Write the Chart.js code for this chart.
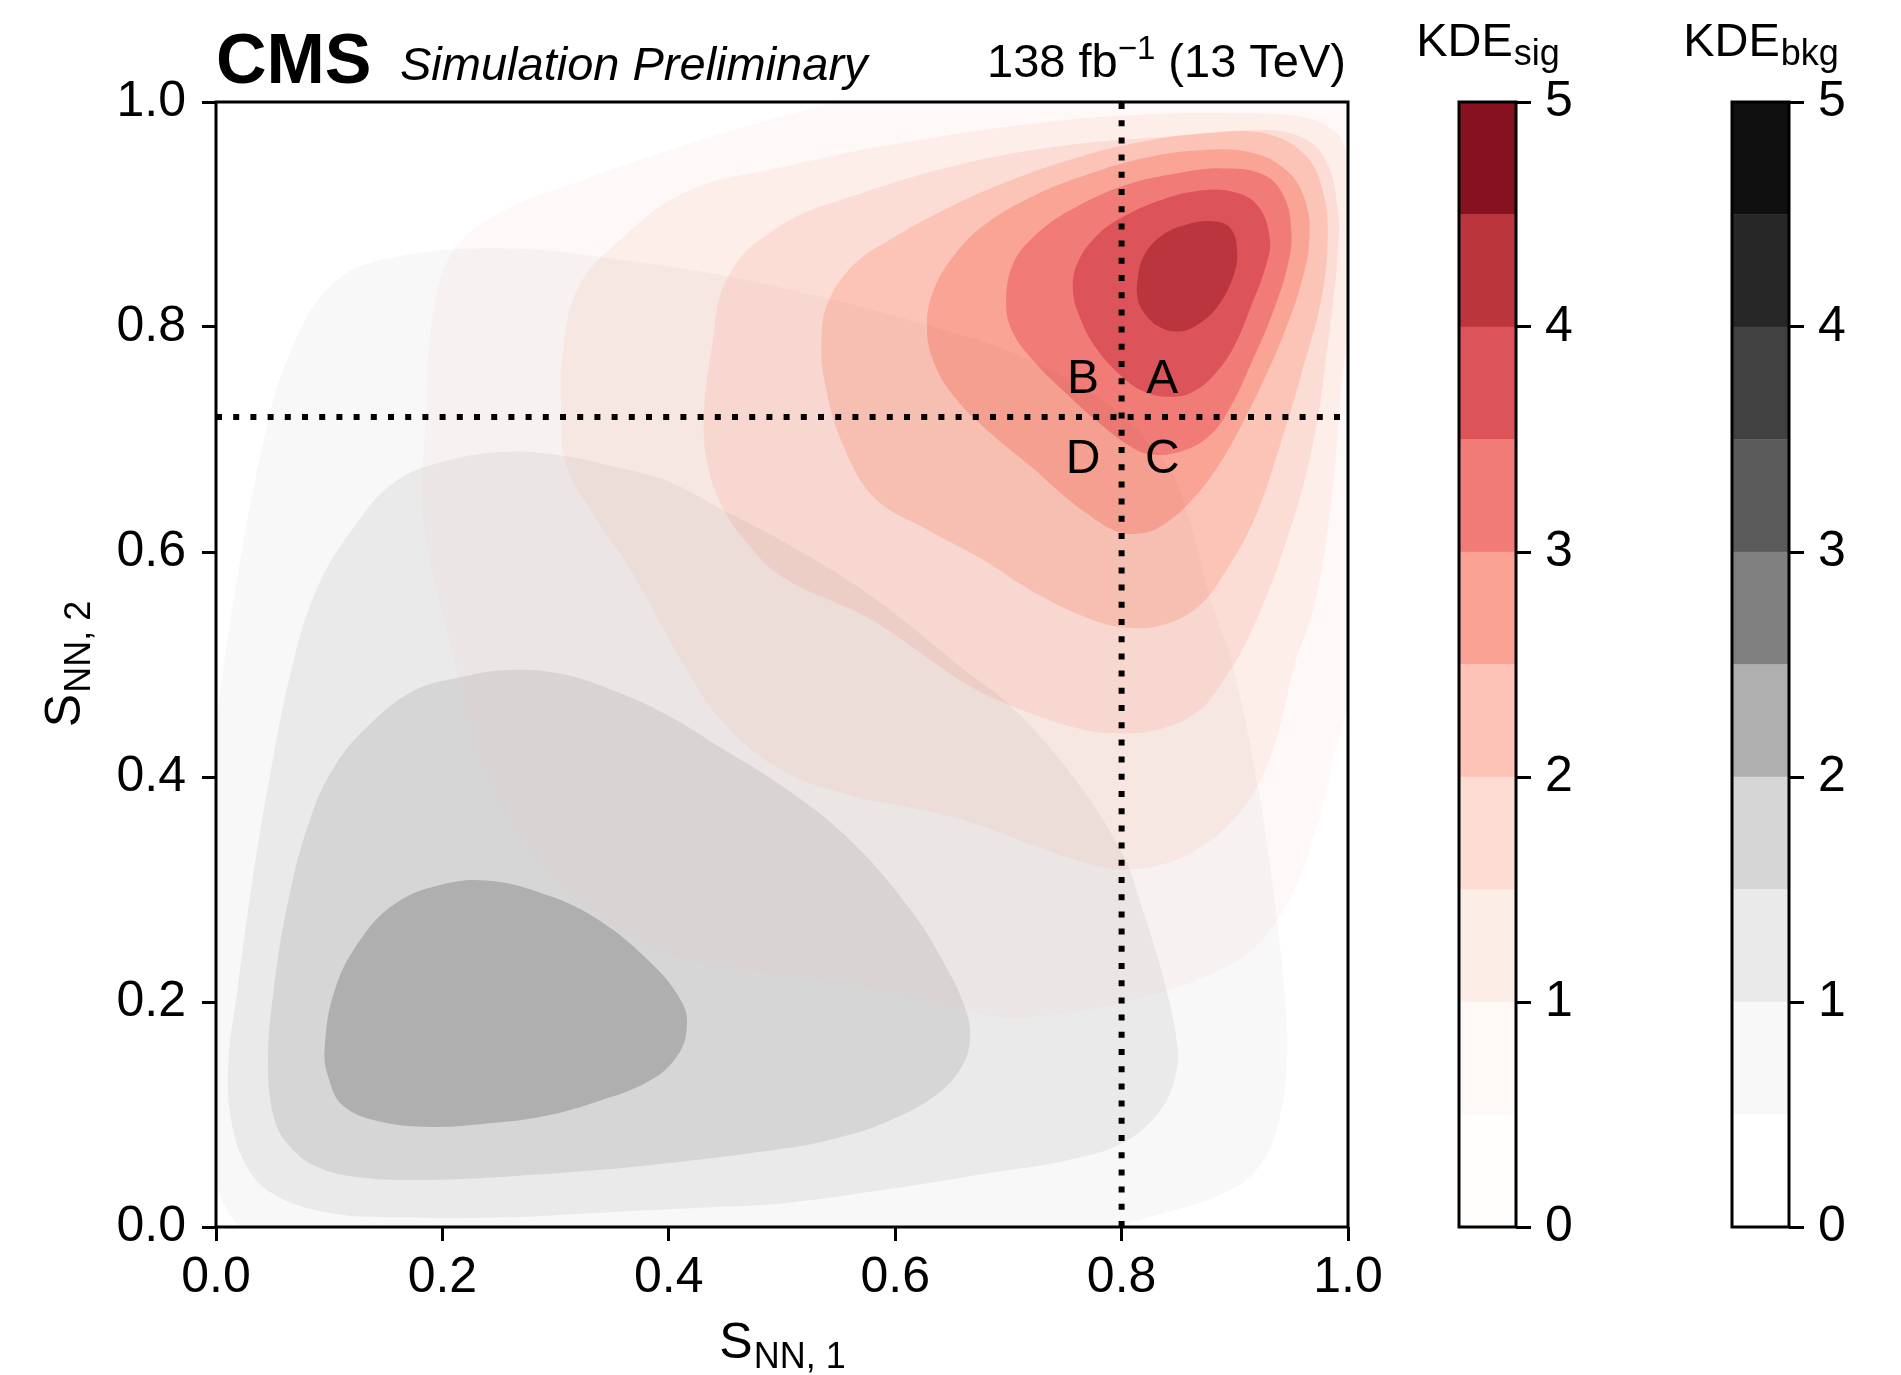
<!DOCTYPE html>
<html>
<head>
<meta charset="utf-8">
<title>KDE signal / background</title>
<script src="https://cdn.jsdelivr.net/npm/chart.js@4.4.1/dist/chart.umd.min.js"></script>
<style>
  html, body { margin: 0; padding: 0; background: #fff; }
  body { width: 1901px; height: 1375px; position: relative; overflow: hidden; }
  canvas { position: absolute; top: 0; }
</style>
</head>
<body>
<canvas id="kde-plot" width="1901" height="1375" style="left:0"></canvas>
<canvas id="cbar-sig" width="228" height="1375" style="left:1400px"></canvas>
<canvas id="cbar-bkg" width="228" height="1375" style="left:1673px"></canvas>
<script>
const FONT = "'Liberation Sans', Arial, Helvetica, sans-serif";

// axis range of both network scores
const axisMin = 0;
const axisMax = 1;
const axisStep = 0.2;

// colour-map bins shared by both colour bars
const kdeLevels = [0, 0.5, 1, 1.5, 2, 2.5, 3, 3.5, 4, 4.5, 5];
const sigColors = ['#fffefd', '#fef8f6', '#fdede7', '#fcdcd3', '#fcc3b6', '#faa395', '#f07b77', '#dc5459', '#ba353c', '#87121f'];
const bkgColors = ['#ffffff', '#f8f8f8', '#eaeaea', '#d6d6d6', '#afafaf', '#808080', '#5b5b5b', '#414141', '#272727', '#0f0f0f'];

// ABCD cuts
const cutX = 0.8;
const cutY = 0.72;
const regionNames = ['B', 'A', 'D', 'C'];
const regionX = [0.766, 0.836, 0.766, 0.836];
const regionY = [0.741, 0.741, 0.670, 0.670];

// background iso-density lines, [S_NN,1, S_NN,2]
const bkgLevels = [0.5, 1, 1.5, 2];
const bkgContour05 = [[0.0064, 0.497], [-0.002, 0.40], [-0.006, 0.25], [-0.005, 0.12], [0.0, 0.045], [0.012, 0.012], [0.035, -0.008],
  [0.12, -0.025], [0.4, -0.03], [0.65, -0.02], [0.787, 0.0], [0.835, 0.012], [0.892, 0.031], [0.924, 0.057], [0.940, 0.099],
  [0.946, 0.147], [0.945, 0.195], [0.937, 0.275], [0.921, 0.388], [0.898, 0.5], [0.878, 0.560], [0.851, 0.657], [0.83, 0.69],
  [0.79, 0.73], [0.72, 0.77], [0.666, 0.791], [0.5, 0.835], [0.357, 0.860], [0.242, 0.870], [0.1435, 0.859], [0.105, 0.840],
  [0.0733, 0.795], [0.0447, 0.711]];
const bkgContour10 = [[0.011, 0.147], [0.019, 0.211], [0.032, 0.307], [0.048, 0.403], [0.067, 0.497], [0.089, 0.567], [0.121, 0.621],
  [0.159, 0.663], [0.207, 0.682], [0.255, 0.689], [0.303, 0.686], [0.351, 0.676], [0.399, 0.663], [0.445, 0.639], [0.5, 0.610],
  [0.580, 0.560], [0.659, 0.497], [0.701, 0.464], [0.755, 0.403], [0.800, 0.333], [0.819, 0.281], [0.838, 0.217], [0.849, 0.163],
  [0.848, 0.137], [0.835, 0.105], [0.803, 0.076], [0.755, 0.060], [0.677, 0.047], [0.596, 0.034], [0.5, 0.021], [0.446, 0.018],
  [0.351, 0.0134], [0.255, 0.0086], [0.159, 0.0086], [0.096, 0.0134], [0.048, 0.031], [0.0255, 0.057], [0.013, 0.098]];
const bkgContour15 = [[0.046, 0.147], [0.051, 0.211], [0.064, 0.291], [0.083, 0.362], [0.105, 0.410], [0.134, 0.445], [0.175, 0.477],
  [0.217, 0.489], [0.255, 0.495], [0.303, 0.492], [0.351, 0.477], [0.399, 0.455], [0.446, 0.426], [0.5, 0.392], [0.558, 0.346],
  [0.612, 0.284], [0.644, 0.233], [0.663, 0.191], [0.666, 0.166], [0.659, 0.143], [0.637, 0.118], [0.596, 0.095], [0.548, 0.079],
  [0.5, 0.0695], [0.383, 0.055], [0.287, 0.047], [0.191, 0.042], [0.128, 0.044], [0.089, 0.0535], [0.064, 0.073], [0.051, 0.098]];
const bkgContour20 = [[0.096, 0.159], [0.105, 0.211], [0.128, 0.256], [0.159, 0.288], [0.198, 0.304], [0.239, 0.308], [0.287, 0.297],
  [0.335, 0.275], [0.383, 0.236], [0.411, 0.201], [0.416, 0.179], [0.408, 0.153], [0.383, 0.130], [0.335, 0.111], [0.287, 0.098],
  [0.239, 0.092], [0.191, 0.089], [0.144, 0.094], [0.112, 0.108], [0.099, 0.134]];

// signal iso-density lines
const sigLevels = [0.5, 1, 1.5, 2, 2.5, 3, 3.5, 4];
const sigContour05 = [[0.182, 0.647], [0.185, 0.711], [0.191, 0.807], [0.210, 0.868], [0.255, 0.904], [0.319, 0.929], [0.415, 0.962],
  [0.5, 0.987], [0.6, 1.01], [0.8, 1.03], [1.02, 1.03], [1.03, 0.8], [1.015, 0.56], [1.0, 0.467], [0.988, 0.419], [0.972, 0.355],
  [0.953, 0.301], [0.921, 0.252], [0.883, 0.227], [0.819, 0.204], [0.755, 0.191], [0.691, 0.187], [0.628, 0.202], [0.564, 0.215],
  [0.5, 0.224], [0.415, 0.238], [0.351, 0.268], [0.287, 0.323], [0.239, 0.403], [0.213, 0.494], [0.191, 0.583]];
const sigContour10 = [[0.305, 0.727], [0.306, 0.775], [0.319, 0.833], [0.351, 0.872], [0.415, 0.920], [0.5, 0.942], [0.596, 0.962],
  [0.723, 0.981], [0.819, 0.989], [0.915, 0.990], [0.964, 0.986], [0.987, 0.975], [0.997, 0.961], [1.01, 0.92], [1.008, 0.84],
  [0.996, 0.764], [0.987, 0.662], [0.972, 0.560], [0.953, 0.5], [0.937, 0.435], [0.921, 0.394], [0.899, 0.362], [0.867, 0.336],
  [0.835, 0.322], [0.803, 0.318], [0.771, 0.323], [0.723, 0.339], [0.675, 0.357], [0.628, 0.370], [0.564, 0.383], [0.5, 0.406],
  [0.446, 0.451], [0.415, 0.497], [0.367, 0.583], [0.335, 0.631], [0.309, 0.679]];
const sigContour15 = [[0.431, 0.718], [0.437, 0.775], [0.453, 0.846], [0.5, 0.891], [0.564, 0.917], [0.659, 0.945], [0.755, 0.962],
  [0.851, 0.970], [0.915, 0.975], [0.956, 0.970], [0.980, 0.949], [0.991, 0.904], [0.991, 0.866], [0.984, 0.798], [0.969, 0.696],
  [0.946, 0.611], [0.913, 0.526], [0.886, 0.480], [0.867, 0.458], [0.835, 0.443], [0.793, 0.439], [0.755, 0.445], [0.701, 0.464],
  [0.659, 0.485], [0.620, 0.512], [0.575, 0.542], [0.5, 0.578], [0.466, 0.612], [0.446, 0.643], [0.434, 0.679]];
const sigContour20 = [[0.535, 0.791], [0.541, 0.823], [0.564, 0.856], [0.596, 0.878], [0.643, 0.904], [0.691, 0.926], [0.755, 0.949],
  [0.819, 0.965], [0.883, 0.973], [0.931, 0.971], [0.963, 0.952], [0.978, 0.920], [0.982, 0.878], [0.976, 0.823], [0.959, 0.759],
  [0.940, 0.695], [0.918, 0.631], [0.892, 0.583], [0.867, 0.551], [0.835, 0.535], [0.803, 0.533], [0.771, 0.541], [0.723, 0.564],
  [0.676, 0.594], [0.628, 0.620], [0.582, 0.648], [0.554, 0.695], [0.538, 0.750]];
const sigContour25 = [[0.628, 0.801], [0.634, 0.833], [0.653, 0.865], [0.679, 0.891], [0.723, 0.917], [0.771, 0.936], [0.819, 0.950],
  [0.867, 0.957], [0.915, 0.955], [0.946, 0.939], [0.962, 0.913], [0.966, 0.878], [0.959, 0.840], [0.946, 0.801], [0.927, 0.756],
  [0.905, 0.711], [0.883, 0.673], [0.860, 0.644], [0.838, 0.625], [0.819, 0.617], [0.797, 0.618], [0.774, 0.631], [0.749, 0.650],
  [0.720, 0.676], [0.685, 0.705], [0.653, 0.737], [0.634, 0.769]];
const sigContour30 = [[0.698, 0.820], [0.704, 0.856], [0.723, 0.881], [0.755, 0.904], [0.803, 0.926], [0.851, 0.937], [0.889, 0.941],
  [0.924, 0.936], [0.943, 0.917], [0.950, 0.884], [0.947, 0.856], [0.934, 0.814], [0.915, 0.769], [0.895, 0.727], [0.876, 0.702],
  [0.851, 0.689], [0.825, 0.687], [0.806, 0.695], [0.781, 0.714], [0.749, 0.743], [0.723, 0.769], [0.704, 0.795]];
const sigContour35 = [[0.757, 0.833], [0.762, 0.859], [0.781, 0.884], [0.803, 0.899], [0.835, 0.913], [0.867, 0.921], [0.899, 0.920],
  [0.921, 0.907], [0.931, 0.878], [0.928, 0.856], [0.915, 0.820], [0.899, 0.782], [0.883, 0.759], [0.864, 0.743], [0.844, 0.738],
  [0.819, 0.743], [0.797, 0.759], [0.777, 0.782], [0.765, 0.804]];
const sigContour40 = [[0.814, 0.840], [0.819, 0.862], [0.835, 0.881], [0.857, 0.891], [0.880, 0.894], [0.896, 0.888], [0.902, 0.868],
  [0.899, 0.846], [0.886, 0.820], [0.870, 0.804], [0.851, 0.796], [0.832, 0.801], [0.819, 0.814], [0.814, 0.827]];

const bkgContours = [bkgContour05, bkgContour10, bkgContour15, bkgContour20];
const sigContours = [sigContour05, sigContour10, sigContour15, sigContour20, sigContour25, sigContour30, sigContour35, sigContour40];

function hexRgb(h) {
  return [1, 3, 5].map(i => parseInt(h.slice(i, i + 2), 16));
}

// the signal map fades in: bin k is painted with opacity k/9, so nested
// layers get the opacity step that leaves the same amount of background showing
function sigLayerFill(k) {
  const keep = (1 - k / 9) / (1 - (k - 1) / 9);
  const a = 1 - keep;
  const cur = hexRgb(sigColors[k]);
  const prev = hexRgb(sigColors[k - 1]);
  const rgb = cur.map((v, i) => Math.min(255, Math.max(0, Math.round((v - keep * prev[i]) / a))));
  return `rgba(${rgb.join(',')},${a.toFixed(4)})`;
}

// closed smooth loop: repeat the ends so the spline has neighbours all round
function closeLoop(pts) {
  const loop = [pts[pts.length - 1], ...pts, pts[0], pts[1]];
  return loop.map(([x, y]) => ({ x, y }));
}

const layers = [];
bkgContours.forEach((pts, i) => {
  const k = kdeLevels.indexOf(bkgLevels[i]);
  layers.push({ data: closeLoop(pts), backgroundColor: bkgColors[k] });
});
sigContours.forEach((pts, i) => {
  const k = kdeLevels.indexOf(sigLevels[i]);
  layers.push({ data: closeLoop(pts), backgroundColor: sigLayerFill(k) });
});

const cutStyle = {
  borderColor: '#000', borderWidth: 6, borderDash: [6, 11.2], borderCapStyle: 'butt',
  fill: false, tension: 0
};

const datasets = [
  ...layers.map(l => ({ ...l, fill: 'shape', borderWidth: 0, borderColor: 'rgba(0,0,0,0)', tension: 0.4 })),
  { ...cutStyle, data: [{ x: cutX, y: axisMin }, { x: cutX, y: axisMax }] },
  { ...cutStyle, data: [{ x: axisMin, y: cutY }, { x: axisMax, y: cutY }] }
];
// first entry is the bottom layer
datasets.forEach((d, i) => { d.order = datasets.length - i; });

// draws a symbol with a lowered (or raised) smaller part
function drawScript(ctx, base, script, baseSize, scriptSize, shift) {
  ctx.font = `${baseSize}px ${FONT}`;
  const wb = ctx.measureText(base).width;
  ctx.font = `${scriptSize}px ${FONT}`;
  const ws = ctx.measureText(script).width;
  const x0 = -(wb + ws) / 2;
  ctx.textAlign = 'left';
  ctx.font = `${baseSize}px ${FONT}`;
  ctx.fillText(base, x0, 0);
  ctx.font = `${scriptSize}px ${FONT}`;
  ctx.fillText(script, x0 + wb + 1, shift);
}

const frame = {
  id: 'frame',
  afterDatasetsDraw(chart) {
    const { ctx, chartArea: a } = chart;
    ctx.save();
    ctx.strokeStyle = '#000';
    ctx.lineWidth = 3;
    ctx.strokeRect(a.left, a.top, a.right - a.left, a.bottom - a.top);
    ctx.restore();
  }
};

const annotations = {
  id: 'annotations',
  afterDraw(chart) {
    const { ctx, chartArea: a, scales } = chart;
    ctx.save();
    ctx.fillStyle = '#000';
    ctx.textBaseline = 'alphabetic';

    // region labels
    ctx.font = `48px ${FONT}`;
    ctx.textAlign = 'center';
    regionNames.forEach((t, i) => {
      ctx.fillText(t, scales.x.getPixelForValue(regionX[i]), scales.y.getPixelForValue(regionY[i]));
    });

    // header
    ctx.textAlign = 'left';
    ctx.font = `bold 70px ${FONT}`;
    ctx.fillText('CMS', a.left, 83);
    ctx.font = `italic 47px ${FONT}`;
    ctx.fillText('Simulation Preliminary', 400, 80);

    const pieces = [['138 fb', 47, 0], ['\u22121', 33, -18], [' (13 TeV)', 47, 0]];
    let w = 0;
    pieces.forEach(([t, s]) => { ctx.font = `${s}px ${FONT}`; w += ctx.measureText(t).width; });
    let x = a.right - 2 - w;
    pieces.forEach(([t, s, dy]) => {
      ctx.font = `${s}px ${FONT}`;
      ctx.fillText(t, x, 77 + dy);
      x += ctx.measureText(t).width;
    });

    // axis titles
    ctx.save();
    ctx.translate((a.left + a.right) / 2, 1358);
    drawScript(ctx, 'S', 'NN, 1', 50, 36, 10);
    ctx.restore();
    ctx.save();
    ctx.translate(80, (a.top + a.bottom) / 2);
    ctx.rotate(-Math.PI / 2);
    drawScript(ctx, 'S', 'NN, 2', 50, 36, 10);
    ctx.restore();
    ctx.restore();
  }
};

const tickFont = { family: FONT, size: 50 };

new Chart(document.getElementById('kde-plot'), {
  type: 'line',
  data: { datasets },
  options: {
    responsive: false,
    animation: false,
    events: [],
    layout: { padding: { top: 102, right: 553, left: 0, bottom: 0 } },
    elements: { point: { radius: 0 }, line: { capBezierPoints: false } },
    plugins: { legend: { display: false }, tooltip: { enabled: false }, title: { display: false } },
    scales: {
      x: {
        type: 'linear', min: axisMin, max: axisMax,
        afterFit: s => { s.height = 148; },
        ticks: { stepSize: axisStep, callback: v => v.toFixed(1), font: tickFont, color: '#000', padding: 7, maxRotation: 0 },
        grid: { drawOnChartArea: false, tickLength: 14, tickWidth: 3, tickColor: '#000' },
        border: { display: false }
      },
      y: {
        type: 'linear', min: axisMin, max: axisMax,
        afterFit: s => { s.width = 216; },
        ticks: { stepSize: axisStep, callback: v => v.toFixed(1), font: tickFont, color: '#000', padding: 16 },
        grid: { drawOnChartArea: false, tickLength: 14, tickWidth: 3, tickColor: '#000' },
        border: { display: false }
      }
    }
  },
  plugins: [frame, annotations]
});

// colour bar: one floating bar per bin
function colorBar(canvasId, colors, label) {
  const bins = colors.map((c, i) => ({
    data: [[kdeLevels[i], kdeLevels[i + 1]]],
    backgroundColor: c,
    borderWidth: 0,
    grouped: false,
    barPercentage: 1,
    categoryPercentage: 1
  }));
  const title = {
    id: 'cbarTitle',
    afterDraw(chart) {
      const { ctx, chartArea: a } = chart;
      ctx.save();
      ctx.fillStyle = '#000';
      ctx.translate((a.left + a.right) / 2, 56);
      drawScript(ctx, 'KDE', label, 47, 36, 9);
      ctx.restore();
    }
  };
  return new Chart(document.getElementById(canvasId), {
    type: 'bar',
    data: { labels: [''], datasets: bins },
    options: {
      responsive: false,
      animation: false,
      events: [],
      layout: { padding: { top: 102, bottom: 148, left: 59, right: 0 } },
      plugins: { legend: { display: false }, tooltip: { enabled: false } },
      scales: {
        x: { display: false },
        y: {
          position: 'right', min: kdeLevels[0], max: kdeLevels[kdeLevels.length - 1],
          afterFit: s => { s.width = 112; },
          ticks: { stepSize: 1, font: { family: FONT, size: 50 }, color: '#000', padding: 14 },
          grid: { drawOnChartArea: false, tickLength: 15, tickWidth: 3, tickColor: '#000' },
          border: { display: false }
        }
      }
    },
    plugins: [frame, title]
  });
}

colorBar('cbar-sig', sigColors, 'sig');
colorBar('cbar-bkg', bkgColors, 'bkg');
</script>
</body>
</html>
